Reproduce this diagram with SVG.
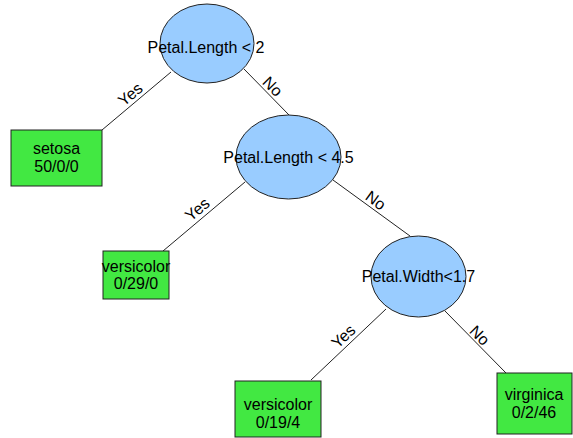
<svg xmlns="http://www.w3.org/2000/svg" width="573" height="438" viewBox="0 0 573 438">
<style>
text{font-family:"Liberation Sans",Arial,sans-serif;font-size:16px;fill:#000;text-anchor:middle}
.split{fill:#99ccff;stroke:#222;stroke-width:1}
.leaf{fill:#42e842;stroke:#222;stroke-width:1}
.edge{stroke:#222;stroke-width:1;fill:none}
</style>
<rect width="573" height="438" fill="#fff"/>
<g id="connectors">
<line class="edge" x1="171" y1="72" x2="102" y2="130"/>
<line class="edge" x1="244" y1="69" x2="289" y2="115"/>
<line class="edge" x1="245" y1="182" x2="163" y2="251"/>
<line class="edge" x1="333" y1="180" x2="410" y2="236"/>
<line class="edge" x1="386" y1="309" x2="311" y2="380"/>
<line class="edge" x1="445" y1="311" x2="506" y2="373"/>
<text transform="translate(130,94) rotate(-40)" y="6">Yes</text>
<text transform="translate(273,86) rotate(45.6)" y="6">No</text>
<text transform="translate(197,209) rotate(-40)" y="6">Yes</text>
<text transform="translate(376,200) rotate(36)" y="6">No</text>
<text transform="translate(343,336) rotate(-43.4)" y="6">Yes</text>
<text transform="translate(480,335) rotate(45)" y="6">No</text>
</g>
<g id="n1">
<ellipse class="split" cx="207" cy="43.5" rx="47" ry="39.5"/>
<text x="206" y="53">Petal.Length &lt; 2</text>
</g>
<g id="n2">
<rect class="leaf" x="11" y="130" width="91" height="56"/>
<text x="56.5" y="154">setosa</text>
<text x="56.5" y="172">50/0/0</text>
</g>
<g id="n3">
<ellipse class="split" cx="288.5" cy="157" rx="52.5" ry="42"/>
<text x="288.5" y="163">Petal.Length &lt; 4.5</text>
</g>
<g id="n4">
<rect class="leaf" x="103" y="251" width="66" height="48"/>
<text x="136" y="272">versicolor</text>
<text x="136" y="289">0/29/0</text>
</g>
<g id="n5">
<ellipse class="split" cx="418.5" cy="276.5" rx="47.5" ry="40.5"/>
<text x="418.5" y="282">Petal.Width&lt;1.7</text>
</g>
<g id="n6">
<rect class="leaf" x="235" y="381" width="86" height="56"/>
<text x="278" y="410">versicolor</text>
<text x="278" y="428">0/19/4</text>
</g>
<g id="n7">
<rect class="leaf" x="497" y="373" width="75" height="61"/>
<text x="534" y="400">virginica</text>
<text x="534" y="418">0/2/46</text>
</g>
</svg>
